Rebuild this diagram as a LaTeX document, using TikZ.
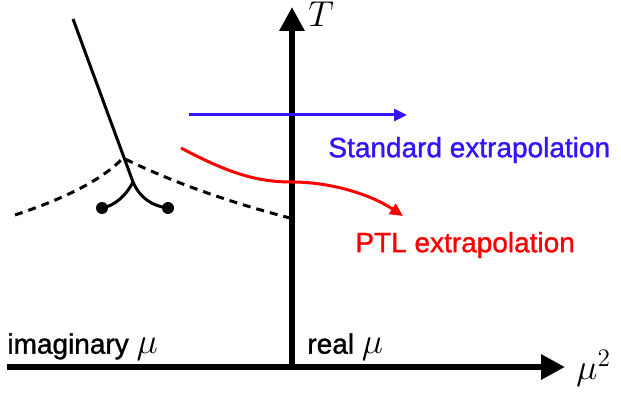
\documentclass[tikz,border=0pt]{standalone}
\usepackage{fix-cm}
\usepackage[no-math]{fontspec}
\setmainfont{Liberation Sans}[BoldFont={Liberation Sans}, BoldFeatures={FakeBold=1.2}]
\usetikzlibrary{arrows.meta}
\definecolor{stdblue}{RGB}{50,20,255}
\newcommand{\bigmath}[1]{{\fontsize{18}{20}\selectfont$#1$}}

\begin{document}
\begin{tikzpicture}[x=0.5pt, y=-0.5pt,
  axis/.style={line width=3pt, -{Triangle[width=12pt, length=12pt]}},
  flow/.style={line width=1.5pt, -{Triangle[width=6pt, length=6.5pt]}},
  txt/.style={font=\fontsize{14}{16}\selectfont\bfseries, inner sep=0pt}]

  \useasboundingbox (0,0) rectangle (621,395);

  \coordinate (O)  at (292, 367);
  \coordinate (Xl) at (7, 367);
  \coordinate (Xr) at (565, 367);
  \coordinate (Yt) at (292, 7);

  % axes
  \draw[line width=3pt] (Xl) -- (O);
  \draw[axis] (O) -- (Xr);
  \draw[axis] (O) -- (Yt);

  % transition line and its end points
  \coordinate (top)  at (73, 19);
  \coordinate (fork) at (133, 182);
  \coordinate (eL)   at (102, 208);
  \coordinate (eR)   at (168, 208);
  \draw[line width=1.5pt] (top) -- (fork);
  \draw[line width=1.5pt] (fork) .. controls (126,196) and (114,206) .. (eL);
  \draw[line width=1.5pt] (fork) .. controls (140,198) and (152,206) .. (eR);
  \fill (eL) circle (3pt);
  \fill (eR) circle (3pt);

  % dashed line
  \coordinate (dL) at (15, 215);
  \coordinate (dP) at (123, 158);
  \coordinate (dR) at (290, 218);
  \draw[line width=1.5pt, dash pattern=on 4pt off 3pt]
    (dL) .. controls (60,200) and (100,182) .. (dP)
    .. controls (180,186) and (240,205) .. (dR);

  % extrapolations
  \coordinate (bS) at (189, 115);
  \coordinate (bE) at (407, 115);
  \draw[flow, stdblue] (bS) -- (bE);
  \coordinate (rS) at (181, 148);
  \coordinate (rM) at (292, 182);
  \coordinate (rE) at (403, 216);
  \draw[flow, red] (rS) .. controls (230,174) and (258,182) .. (rM)
    .. controls (330,182) and (370,194) .. (rE);

  % labels
  \node[txt, anchor=west] (T)   at (308, 14)  {\bigmath{T}};
  \node[txt, anchor=west] (mu2) at (576, 368) {\bigmath{\mu^2}};
  \node[txt, anchor=west, text=stdblue] (std) at (328, 150) {Standard extrapolation};
  \node[txt, anchor=west, text=red] (ptl) at (355, 245) {PTL extrapolation};
  \node[txt, anchor=west] (img)  at (7, 347)   {imaginary \bigmath{\mu}};
  \node[txt, anchor=west] (real) at (307, 347) {real \bigmath{\mu}};
\end{tikzpicture}
\end{document}
